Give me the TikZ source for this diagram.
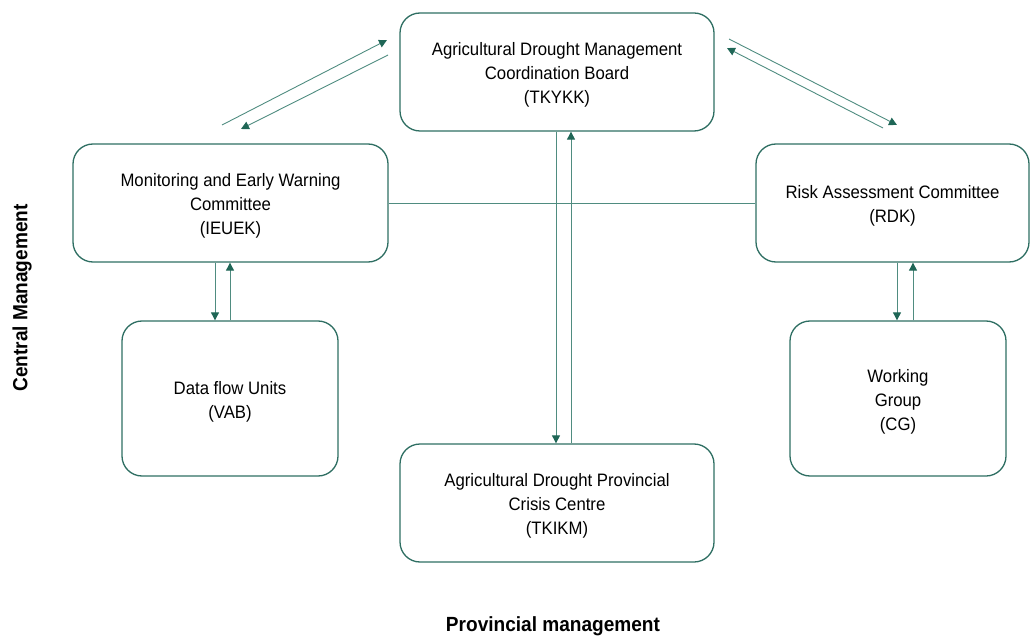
\documentclass[tikz,border=0pt]{standalone}
\usepackage{fontspec}
\setmainfont[FakeStretch=0.93]{Liberation Sans}
\usetikzlibrary{arrows.meta}
\definecolor{boxc}{HTML}{2E6E62}
\definecolor{linec}{HTML}{4F8C80}
\definecolor{tipc}{HTML}{1F6656}
\newcommand{\toppad}{\rule{0pt}{19pt}}
\tikzset{
  boxnode/.style={draw=boxc, line width=1.3pt, rounded corners=20pt, align=center,
    font=\fontsize{18}{24}\selectfont, inner sep=0pt},
  conn/.style={draw=linec, line width=0.9pt, -{Triangle[length=8pt,width=8pt,fill=tipc,color=tipc]}},
  plain/.style={draw=linec, line width=0.9pt},
  lbl/.style={font=\fontsize{20.5}{24}\selectfont\bfseries}
}
\begin{document}
\begin{tikzpicture}[x=1pt,y=-1pt]
\useasboundingbox (0,0) rectangle (1030,636);
\node[boxnode, minimum width=314pt, minimum height=118pt] (top) at (557,72) {\toppad Agricultural Drought Management\\Coordination Board\\(TKYKK)};
\node[boxnode, minimum width=315pt, minimum height=118pt] (ieuek) at (230.5,203) {\toppad Monitoring and Early Warning\\Committee\\(IEUEK)};
\node[boxnode, minimum width=273pt, minimum height=118pt] (rdk) at (892.5,203) {\toppad Risk Assessment Committee\\(RDK)};
\node[boxnode, minimum width=216pt, minimum height=155pt] (vab) at (230,398.5) {\toppad Data flow Units\\(VAB)};
\node[boxnode, minimum width=216pt, minimum height=155pt] (cg) at (898,398.5) {\toppad Working\\Group\\(CG)};
\node[boxnode, minimum width=314pt, minimum height=118pt] (tkikm) at (557,503) {\toppad Agricultural Drought Provincial\\Crisis Centre\\(TKIKM)};

\node[lbl, rotate=90] (central) at (22,298) {Central Management};
\node[lbl] (prov) at (553,626) {Provincial management};

% horizontal line
\draw[plain] (ieuek.east) -- (rdk.west);
% vertical top <-> tkikm
\draw[conn] ([xshift=-1pt]top.south) -- ([xshift=-1pt]tkikm.north);
\draw[conn] ([xshift=14pt]tkikm.north) -- ([xshift=14pt]top.south);
% ieuek <-> vab
\draw[conn] ([xshift=-15.5pt]ieuek.south) -- ([xshift=-15.5pt]ieuek.south |- vab.north);
\draw[conn] ([xshift=0pt]vab.north) -- ([xshift=0pt]vab.north |- ieuek.south);
% rdk <-> cg
\draw[conn] ([xshift=-1pt]cg.north |- rdk.south) -- ([xshift=-1pt]cg.north);
\draw[conn] ([xshift=15pt]cg.north) -- ([xshift=15pt]cg.north |- rdk.south);
% diagonals left
\coordinate (la) at (222,125);
\coordinate (lb) at (387,40);
\coordinate (lc) at (388,55);
\coordinate (ld) at (241,129);
\draw[conn] (la) -- (lb);
\draw[conn] (lc) -- (ld);
% diagonals right
\coordinate (ra) at (729,39);
\coordinate (rb) at (897,125);
\coordinate (rc) at (883,128);
\coordinate (rd) at (727,48);
\draw[conn] (ra) -- (rb);
\draw[conn] (rc) -- (rd);
\end{tikzpicture}
\end{document}
